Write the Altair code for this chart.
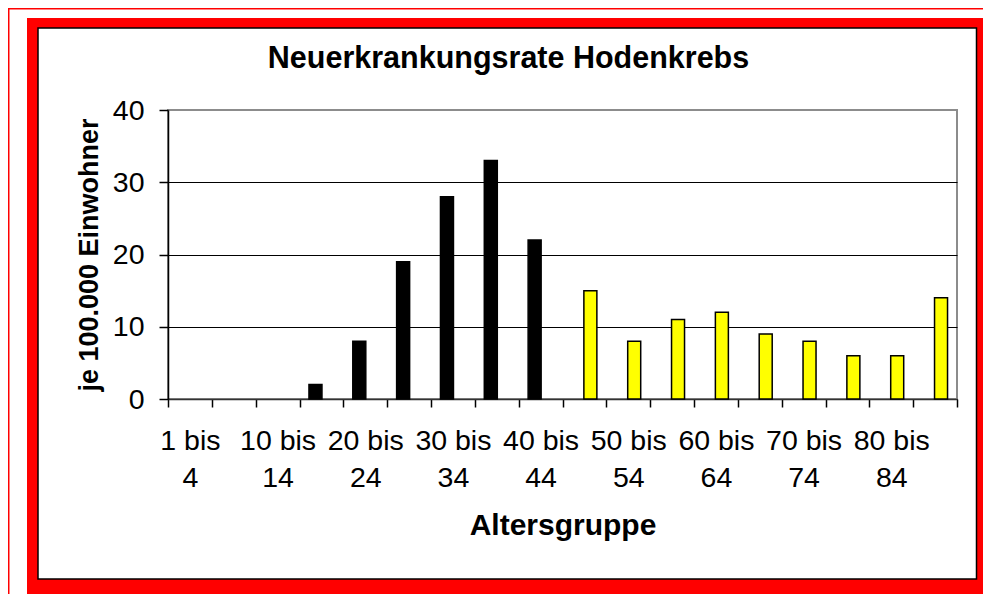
import json
import altair as alt
import pandas as pd

# ---- data ----
categories = ["1 bis 4", "5 bis 9", "10 bis 14", "15 bis 19", "20 bis 24", "25 bis 29",
              "30 bis 34", "35 bis 39", "40 bis 44", "45 bis 49", "50 bis 54", "55 bis 59",
              "60 bis 64", "65 bis 69", "70 bis 74", "75 bis 79", "80 bis 84", "85 und älter"]
rates = [0, 0, 0, 2, 8, 19, 28, 33, 22, 15, 8, 11, 12, 9, 8, 6, 6, 14]
series = ["bis 44"] * 9 + ["ab 45"] * 9
series_domain = ["bis 44", "ab 45"]
series_colors = ["#000000", "#FFFF00"]
y_ticks = [0, 10, 20, 30, 40]

df = pd.DataFrame({"Altersgruppe": categories, "Rate": rates, "Serie": series})

# two-line labels, every second category labelled (as in the original)
label_lines = []
for i, c in enumerate(categories):
    if i % 2 == 0:
        a, b = c.split(" bis ")
        label_lines.append([a + " bis", b])
    else:
        label_lines.append("")
label_expr = "{}[indexof({}, datum.value)]".format(
    json.dumps(label_lines, ensure_ascii=False), json.dumps(categories, ensure_ascii=False))

FONT = "Liberation Sans, Arial, sans-serif"
W, H = 789, 289

one = pd.DataFrame({"k": [0]})


def frame_rect(x, x2, y, y2, **kw):
    return alt.Chart(one).mark_rect(**kw).encode(
        x=alt.value(x), x2=alt.value(x2), y=alt.value(y), y2=alt.value(y2))


decor = [
    frame_rect(-159.5, 900, -101.5, 600, fillOpacity=0, stroke="#FF0000", strokeWidth=2),
    frame_rect(-141, 820, -92, -82, fill="#FF0000"),
    frame_rect(-141, -130, -92, 500, fill="#FF0000"),
    frame_rect(809, 820, -92, 500, fill="#FF0000"),
    frame_rect(-141, 820, 469, 500, fill="#FF0000"),
    frame_rect(-130, 808.5, -82, 469, fillOpacity=0, stroke="#000000", strokeWidth=1.5),
]

bars = alt.Chart(df).transform_filter("datum.Rate > 0").mark_bar(
    width=13, stroke="#000000", strokeWidth=1.5).encode(
    x=alt.X("Altersgruppe:N", sort=categories,
            scale=alt.Scale(domain=categories, paddingInner=0, paddingOuter=0),
            axis=alt.Axis(title="Altersgruppe", labelExpr=label_expr, labelAngle=0,
                          labelFont=FONT, labelFontSize=28.5, labelColor="#000000",
                          labelLineHeight=37, labelPadding=19, labelBaseline="top",
                          labelOverlap=False, labelLimit=300,
                          tickBand="extent", tickSize=8, tickColor="#000000", tickWidth=1.5,
                          domainColor="#333333", domainWidth=1.5,
                          titleFont=FONT, titleFontSize=30, titleFontWeight="bold",
                          titleColor="#000000", titleY=135, titleBaseline="alphabetic")),
    xOffset=alt.XOffset("Serie:N", sort=series_domain,
                        scale=alt.Scale(domain=series_domain, paddingInner=0, paddingOuter=0.84)),
    y=alt.Y("Rate:Q",
            scale=alt.Scale(domain=[0, 40], nice=False),
            axis=alt.Axis(title="je 100.000 Einwohner", values=y_ticks,
                          labelFont=FONT, labelFontSize=28.5, labelColor="#000000", labelPadding=15,
                          tickSize=9, tickColor="#000000", tickWidth=1.5,
                          domainColor="#000000", domainWidth=1.5,
                          grid=True, gridWidth=1.2,
                          gridColor={"condition": {"test": "datum.value == 40", "value": "#8c8c8c"},
                                     "value": "#000000"},
                          titleFont=FONT, titleFontSize=27, titleFontWeight="bold",
                          titleColor="#000000", titleAngle=-90, titleX=-71, titleY=H / 2,
                          titleAlign="center", titleBaseline="alphabetic")),
    color=alt.Color("Serie:N", scale=alt.Scale(domain=series_domain, range=series_colors),
                    legend=None),
)

chart = alt.layer(*decor, bars).properties(
    width=W, height=H,
    title=alt.TitleParams("Neuerkrankungsrate Hodenkrebs", font=FONT, fontSize=30.5,
                          fontWeight="bold", color="#000000", anchor="middle", frame="group",
                          baseline="alphabetic", offset=-91, dx=-54),
    autosize=alt.AutoSizeParams(type="none"),
    padding={"left": 160, "top": 102, "right": 26, "bottom": 195},
    background="#FFFFFF",
).configure_view(stroke="#8c8c8c", strokeWidth=2)

chart.save("out.html", embed_options={"renderer": "svg", "actions": False})
